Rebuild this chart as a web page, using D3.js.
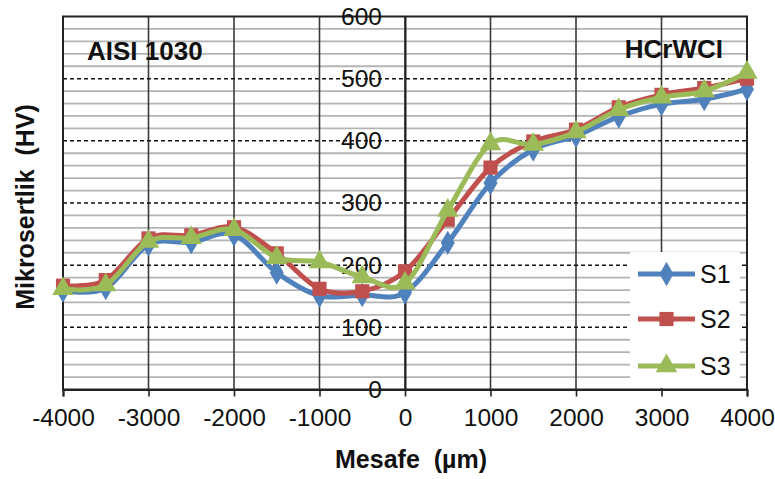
<!DOCTYPE html>
<html>
<head>
<meta charset="utf-8">
<script src="https://cdn.jsdelivr.net/npm/d3@7"></script>
<style>
  html, body { margin: 0; padding: 0; background: #fff; }
  svg { display: block; }
  text { font-family: "Liberation Sans", Arial, sans-serif; fill: #111; white-space: pre; }
</style>
</head>
<body>
<svg id="chart" width="775" height="479"></svg>
<script>
// ---- data ----
const distances = [-4000,-3500,-3000,-2500,-2000,-1500,-1000,-500,0,500,1000,1500,2000,2500,3000,3500,4000];
const s1 = [159,163,233,237,249,188,151,152,156,236,332,386,408,439,459,467,483];
const s2 = [167,176,243,248,261,219,162,158,190,273,357,399,418,454,474,485,500];
const s3 = [162,168,238,244,257,212,205,181,171,288,395,394,414,450,470,480,510];
const seriesNames = ["S1","S2","S3"];
const xTicks = [-4000,-3000,-2000,-1000,0,1000,2000,3000,4000];
const yTicks = [0,100,200,300,400,500,600];
const yMinor = d3.range(0, 601, 20);
const xTitle = "Mesafe  (µm)";
const yTitle = "Mikrosertlik  (HV)";
const leftLabel = "AISI 1030";
const rightLabel = "HCrWCI";

const colors = ["#4F81BD", "#C0504D", "#9BBB59"];
const symbols = [d3.symbolDiamond, d3.symbolSquare, d3.symbolTriangle];
const symSizes = [170, 200, 200];

const svg = d3.select("#chart");
const L = 63, R = 747, T = 16.5, B = 389.5;
const x = d3.scaleLinear().domain([-4000, 4000]).range([L, R]);
const y = d3.scaleLinear().domain([0, 600]).range([B, T]);
const fmt = d => String(d);

// minor gridlines
svg.append("g").selectAll("line").data(yMinor.filter(v => v % 100 !== 0)).join("line")
  .attr("x1", L).attr("x2", R).attr("y1", d => y(d)).attr("y2", d => y(d))
  .attr("stroke", "#b4b4b4").attr("stroke-width", 1.8);
// vertical gridlines
svg.append("g").selectAll("line").data(xTicks).join("line")
  .attr("x1", d => x(d)).attr("x2", d => x(d)).attr("y1", T).attr("y2", B)
  .attr("stroke", "#3a3a3a").attr("stroke-width", 1.6);
// major dashed gridlines
svg.append("g").selectAll("line").data(yTicks.filter(v => v > 0 && v < 600)).join("line")
  .attr("x1", L).attr("x2", R).attr("y1", d => y(d)).attr("y2", d => y(d))
  .attr("stroke", "#111").attr("stroke-width", 1.5).attr("stroke-dasharray", "4,3");

// plot border
svg.append("rect").attr("x", L).attr("y", T).attr("width", R - L).attr("height", B - T)
  .attr("fill", "none").attr("stroke", "#222").attr("stroke-width", 2);

// y axis at x=0
const yAxis = svg.append("g").attr("transform", `translate(${x(0)},0)`)
  .call(d3.axisLeft(y).tickValues(yTicks).tickSize(0).tickPadding(23).tickFormat(fmt));
yAxis.select(".domain").attr("stroke", "#222").attr("stroke-width", 2);
yAxis.selectAll("text").style("font-size", "24.5px").style("font-family", "Liberation Sans, Arial, sans-serif").attr("fill", "#111");

// x axis at bottom
const xAxis = svg.append("g").attr("transform", `translate(0,${B})`)
  .call(d3.axisBottom(x).tickValues(xTicks).tickSize(7).tickPadding(12).tickFormat(fmt));
xAxis.select(".domain").attr("stroke", "#222").attr("stroke-width", 2);
xAxis.selectAll(".tick line").attr("stroke", "#222").attr("stroke-width", 1.6);
xAxis.selectAll("text").style("font-size", "24.5px").style("font-family", "Liberation Sans, Arial, sans-serif").attr("fill", "#111");

// series
const data = [s1, s2, s3];
const line = d3.line().x((d, i) => x(distances[i])).y(d => y(d)).curve(d3.curveCardinal.tension(0));
data.forEach((vals, k) => {
  const g = svg.append("g");
  g.append("path").datum(vals).attr("d", line).attr("fill", "none")
    .attr("stroke", colors[k]).attr("stroke-width", 5).attr("stroke-linejoin", "round");
  g.selectAll("path.m").data(vals).join("path").attr("class", "m")
    .attr("transform", (d, i) => `translate(${x(distances[i])},${y(d)})`)
    .attr("d", d3.symbol().type(symbols[k]).size(symSizes[k]))
    .attr("fill", colors[k]);
});

// annotation labels
svg.append("text").attr("x", 87).attr("y", 60).text(leftLabel)
  .style("font-size", "26px").style("font-weight", "bold");
svg.append("text").attr("x", 723).attr("y", 58).attr("text-anchor", "end").text(rightLabel)
  .style("font-size", "26px").style("font-weight", "bold");

// legend
const lg = svg.append("g");
lg.append("rect").attr("x", 630).attr("y", 252).attr("width", 110).attr("height", 136).attr("fill", "#fff");
const legY = [274, 319, 366];
seriesNames.forEach((name, k) => {
  lg.append("line").attr("x1", 638).attr("x2", 695).attr("y1", legY[k]).attr("y2", legY[k])
    .attr("stroke", colors[k]).attr("stroke-width", 5);
  lg.append("path").attr("transform", `translate(666.5,${legY[k]})`)
    .attr("d", d3.symbol().type(symbols[k]).size(symSizes[k])).attr("fill", colors[k]);
  lg.append("text").attr("x", 700).attr("y", legY[k]).attr("dy", "0.35em").text(name)
    .style("font-size", "25px");
});

// axis titles
svg.append("text").attr("x", 411).attr("y", 468).attr("text-anchor", "middle").text(xTitle)
  .style("font-size", "25px").style("font-weight", "bold");
svg.append("text").attr("transform", "translate(34,207) rotate(-90)").attr("text-anchor", "middle").text(yTitle)
  .style("font-size", "25px").style("font-weight", "bold");
</script>
</body>
</html>
